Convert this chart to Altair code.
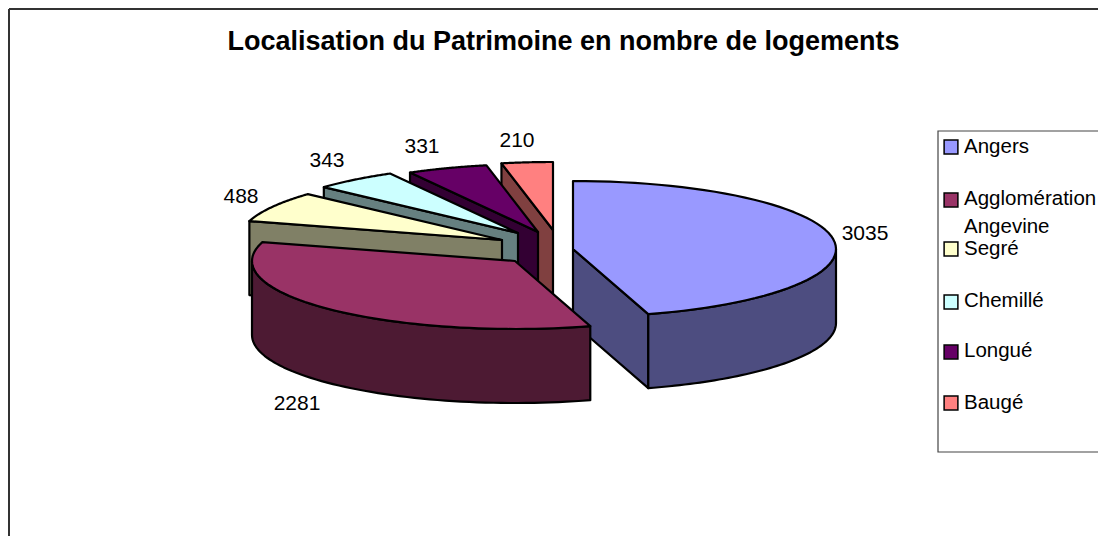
import math
import altair as alt
import pandas as pd

title = "Localisation du Patrimoine en nombre de logements"
categories = ["Angers", "Agglomération Angevine", "Segré", "Chemillé", "Longué", "Baugé"]
values = [3035, 2281, 488, 343, 331, 210]
top_colors = ["#9999FF", "#993366", "#FFFFCC", "#CCFFFF", "#660066", "#FF8080"]
wall_colors = ["#4D4D80", "#4D1A33", "#808066", "#668080", "#330033", "#804040"]

# Pie geometry, in page pixels
centers = [(573, 249), (515, 261), (502, 240), (518, 233), (538, 232), (553, 230)]
RX, RY, DEPTH = 263, 68, 74
label_pos = [(865, 234), (297, 404), (241, 197), (327, 161), (422, 147), (517, 141)]
legend_swatch_y = [147, 200, 249, 302, 352, 403]
legend_lines = [("Angers", 147), ("Agglomération", 199), ("Angevine", 227), ("Segré", 249),
                ("Chemillé", 301), ("Longué", 351), ("Baugé", 403)]

PAGE_R, PAGE_B = 1098, 536

total = sum(values)
spans = []
acc = 0.0
for v in values:
    spans.append((acc, acc + v / total * 2 * math.pi))
    acc += v / total * 2 * math.pi


def pt(c, t, dz=0):
    return (c[0] + RX * math.sin(t), c[1] - RY * math.cos(t) + dz)


def arc(c, a, b, dz=0, n=60):
    return [pt(c, a + (b - a) * i / n, dz) for i in range(n + 1)]


rows = []


def add(name, color, pts):
    for i, (x, y) in enumerate(pts):
        rows.append({"poly": name, "fill": color, "seq": i, "x": x, "y": y})


def radial_wall(i, t):
    c = centers[i]
    e = pt(c, t)
    return [c, e, (e[0], e[1] + DEPTH), (c[0], c[1] + DEPTH)]


def draw_slice(i):
    c, (a, b) = centers[i], spans[i]
    name = categories[i]
    if i == 0:
        add(name + " radial", wall_colors[i], radial_wall(i, b))
        t0, t1 = math.pi / 2, b
        add(name + " side", wall_colors[i], arc(c, t0, t1) + arc(c, t1, t0, DEPTH))
    elif i == 1:
        t0, t1 = a, 1.5 * math.pi
        add(name + " side", wall_colors[i], arc(c, t0, t1) + arc(c, t1, t0, DEPTH))
    else:
        add(name + " radial", wall_colors[i], radial_wall(i, a))
    add(name + " top", top_colors[i], [c] + arc(c, a, b))


for i in [5, 4, 3, 2, 0, 1]:
    draw_slice(i)

df = pd.DataFrame(rows)

X = alt.X("x:Q", scale=alt.Scale(domain=[8, PAGE_R]), axis=None)
Y = alt.Y("y:Q", scale=alt.Scale(domain=[PAGE_B, 8]), axis=None)

slices = alt.Chart(df).mark_line(
    filled=True, interpolate="linear-closed", stroke="black", strokeWidth=2.2, strokeJoin="round"
).encode(x=X, y=Y, detail="poly:N", fill=alt.Fill("fill:N", scale=None), order="seq:Q")

frame = alt.Chart(pd.DataFrame({"x": [9, 9], "y": [9, 9], "x2": [PAGE_R, 9], "y2": [9, PAGE_B]})).mark_rule(
    color="#333333", strokeWidth=2
).encode(x=X, y=Y, x2="x2:Q", y2="y2:Q")

legend_box = alt.Chart(pd.DataFrame({"x": [938], "x2": [PAGE_R + 10], "y": [131], "y2": [452]})).mark_rect(
    fill="white", stroke="#444444", strokeWidth=1.2
).encode(x=X, y=Y, x2="x2:Q", y2="y2:Q")

swatches = alt.Chart(pd.DataFrame({"x": [951] * 6, "y": legend_swatch_y, "fill": top_colors})).mark_point(
    shape="square", size=190, filled=True, stroke="black", strokeWidth=1.5, opacity=1
).encode(x=X, y=Y, fill=alt.Fill("fill:N", scale=None))

legend_text = alt.Chart(pd.DataFrame({"x": [964] * 7, "y": [l[1] for l in legend_lines], "t": [l[0] for l in legend_lines]})).mark_text(
    align="left", baseline="middle", font="Liberation Sans", fontSize=20.5, color="black"
).encode(x=X, y=Y, text="t:N")

labels = alt.Chart(pd.DataFrame({"x": [p[0] for p in label_pos], "y": [p[1] for p in label_pos], "t": [str(v) for v in values]})).mark_text(
    align="center", baseline="middle", font="Liberation Sans", fontSize=21, color="black"
).encode(x=X, y=Y, text="t:N")

title_mark = alt.Chart(pd.DataFrame({"x": [563.5], "y": [42], "t": [title]})).mark_text(
    align="center", baseline="middle", font="Liberation Sans", fontSize=27, fontWeight="bold", color="black"
).encode(x=X, y=Y, text="t:N")

chart = alt.layer(frame, slices, legend_box, swatches, legend_text, labels, title_mark).properties(
    width=PAGE_R - 8, height=PAGE_B - 8, padding=0, autosize=alt.AutoSizeParams(type="none"), background="white"
).configure_view(stroke=None)

chart.save("out.html", embed_options={"renderer": "svg", "actions": False})
